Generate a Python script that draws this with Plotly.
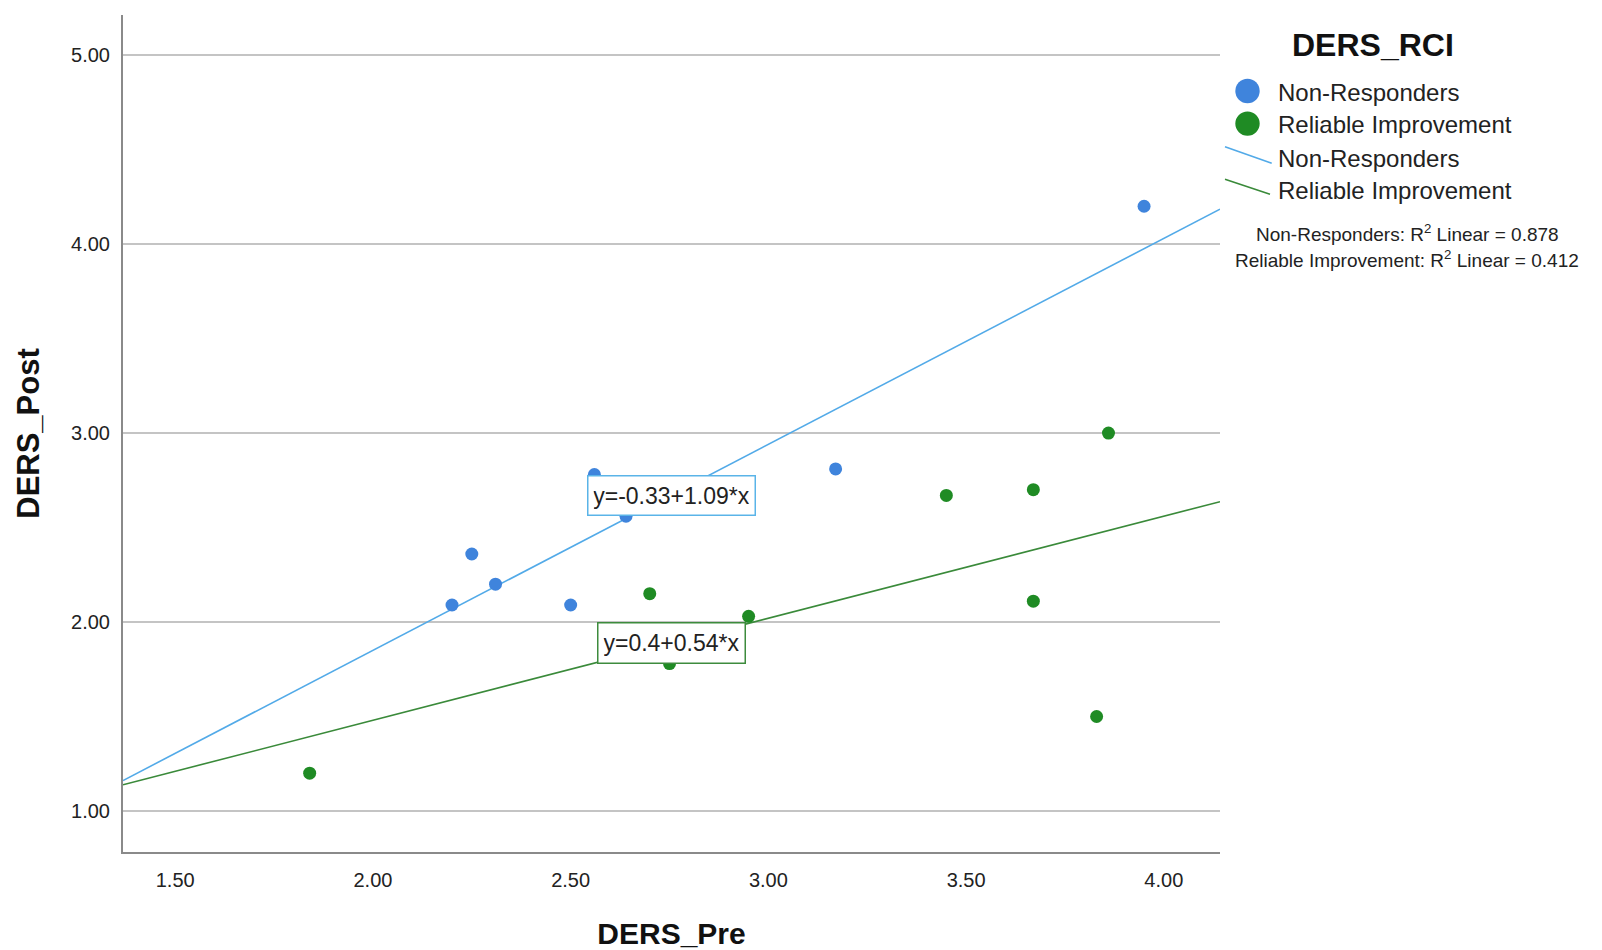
import plotly.graph_objects as go

# DERS scores before and after treatment, grouped by reliable change index
nonresp_pre = [2.20, 2.25, 2.31, 2.50, 2.56, 2.64, 3.17, 3.95]
nonresp_post = [2.09, 2.36, 2.20, 2.09, 2.78, 2.56, 2.81, 4.20]

improve_pre = [1.84, 2.70, 2.75, 2.95, 3.45, 3.67, 3.67, 3.83, 3.86]
improve_post = [1.20, 2.15, 1.78, 2.03, 2.67, 2.70, 2.11, 1.50, 3.00]

# Linear fit coefficients (intercept, slope) and R² per group
nonresp_fit = [-0.33, 1.09]
improve_fit = [0.40, 0.54]
r2_values = [0.878, 0.412]

group_names = ["Non-Responders", "Reliable Improvement"]
x_ticks = [1.5, 2.0, 2.5, 3.0, 3.5, 4.0]
y_ticks = [1.0, 2.0, 3.0, 4.0, 5.0]

X_RANGE = [1.368, 4.142]
Y_RANGE = [0.783, 5.212]

BLUE = "#3f84dc"
GREEN = "#1f8b24"
BLUE_LINE = "#52aae8"
GREEN_LINE = "#3a8a3a"
FONT = "Liberation Sans"

# plot area in pixels (for placing the hand-built legend)
W_FIG, H_FIG = 1602, 950
L, R, T, B = 123, 1220, 15, 852


def px_x(v):
    return (v - L) / (R - L)


def px_y(v):
    return (B - v) / (B - T)


def fit_line(coef):
    xs = list(X_RANGE)
    return xs, [coef[0] + coef[1] * x for x in xs]


def eq_text(coef):
    b0 = f"{coef[0]:.2f}".rstrip("0").rstrip(".")
    b1 = f"{coef[1]:.2f}".rstrip("0").rstrip(".")
    return f"y={b0}+{b1}*x"


fig = go.Figure()

for coef, col in [(nonresp_fit, BLUE_LINE), (improve_fit, GREEN_LINE)]:
    lx, ly = fit_line(coef)
    fig.add_trace(go.Scatter(x=lx, y=ly, mode="lines",
                             line=dict(color=col, width=1.6),
                             showlegend=False, hoverinfo="skip"))

fig.add_trace(go.Scatter(x=nonresp_pre, y=nonresp_post, mode="markers",
                         name=group_names[0],
                         marker=dict(color=BLUE, size=13, line=dict(width=0)),
                         showlegend=False))
fig.add_trace(go.Scatter(x=improve_pre, y=improve_post, mode="markers",
                         name=group_names[1],
                         marker=dict(color=GREEN, size=13, line=dict(width=0)),
                         showlegend=False))

annotations = [
    dict(x=2.756, y=2.670, xref="x", yref="y", text=eq_text(nonresp_fit),
         showarrow=False, font=dict(family=FONT, size=23, color="#222222"),
         bgcolor="white", bordercolor="#5ab4e8", borderwidth=1.5, borderpad=5,
         width=156, height=28),
    dict(x=2.755, y=1.889, xref="x", yref="y", text=eq_text(improve_fit),
         showarrow=False, font=dict(family=FONT, size=23, color="#222222"),
         bgcolor="white", bordercolor="#3d8b3d", borderwidth=1.5, borderpad=5,
         width=136, height=29),
]

shapes = []

# legend title
annotations.append(dict(x=px_x(1373), y=px_y(45), xref="paper", yref="paper",
                        text="<b>DERS_RCI</b>", showarrow=False,
                        xanchor="center", yanchor="middle",
                        font=dict(family=FONT, size=32, color="#111111")))

# legend: marker entries
for cy, col in [(91, BLUE), (123.6, GREEN)]:
    r = 12.2
    shapes.append(dict(type="circle", xref="paper", yref="paper",
                       x0=px_x(1247.5 - r), x1=px_x(1247.5 + r),
                       y0=px_y(cy + r), y1=px_y(cy - r),
                       fillcolor=col, line=dict(width=0)))

# legend: fit line entries
for (x0, y0, x1, y1), col in [((1225, 146.7, 1271.7, 163.3), BLUE_LINE),
                              ((1225, 179.3, 1270, 194.3), GREEN_LINE)]:
    shapes.append(dict(type="line", xref="paper", yref="paper",
                       x0=px_x(x0), y0=px_y(y0), x1=px_x(x1), y1=px_y(y1),
                       line=dict(color=col, width=1.6)))

for cy, name in [(93, group_names[0]), (125, group_names[1]),
                 (158, group_names[0]), (191, group_names[1])]:
    annotations.append(dict(x=px_x(1276), y=px_y(cy), xref="paper", yref="paper",
                            text=name, showarrow=False,
                            xanchor="left", yanchor="middle",
                            font=dict(family=FONT, size=24, color="#222222")))

for cy, name, r2 in [(233, group_names[0], r2_values[0]),
                     (259, group_names[1], r2_values[1])]:
    annotations.append(dict(x=px_x(1407), y=px_y(cy), xref="paper", yref="paper",
                            text=f"{name}: R<sup>2</sup> Linear = {r2:.3f}",
                            showarrow=False, xanchor="center", yanchor="middle",
                            font=dict(family=FONT, size=19, color="#222222")))

fig.update_layout(
    width=W_FIG, height=H_FIG,
    margin=dict(l=L, r=W_FIG - R, t=T, b=H_FIG - B, autoexpand=False),
    paper_bgcolor="white", plot_bgcolor="white",
    showlegend=False,
    annotations=annotations,
    shapes=shapes,
    xaxis=dict(
        range=X_RANGE, tickvals=x_ticks,
        ticktext=[f"{v:.2f}" for v in x_ticks],
        showgrid=False, zeroline=False,
        showline=True, linecolor="#8a8a8a", linewidth=2,
        ticks="", ticklabelstandoff=9,
        tickfont=dict(family=FONT, size=20, color="#222222"),
        title=dict(text="<b>DERS_Pre</b>", standoff=33,
                   font=dict(family=FONT, size=30, color="#111111")),
        automargin=False,
    ),
    yaxis=dict(
        range=Y_RANGE, tickvals=y_ticks,
        ticktext=[f"{v:.2f}" for v in y_ticks],
        showgrid=True, gridcolor="#c4c4c4", gridwidth=1.6,
        zeroline=False,
        showline=True, linecolor="#8a8a8a", linewidth=2,
        ticks="", ticklabelstandoff=7,
        tickfont=dict(family=FONT, size=20, color="#222222"),
        title=dict(text="<b>DERS_Post</b>", standoff=22,
                   font=dict(family=FONT, size=31, color="#111111")),
        automargin=False,
    ),
)

fig.write_html("out.html")
